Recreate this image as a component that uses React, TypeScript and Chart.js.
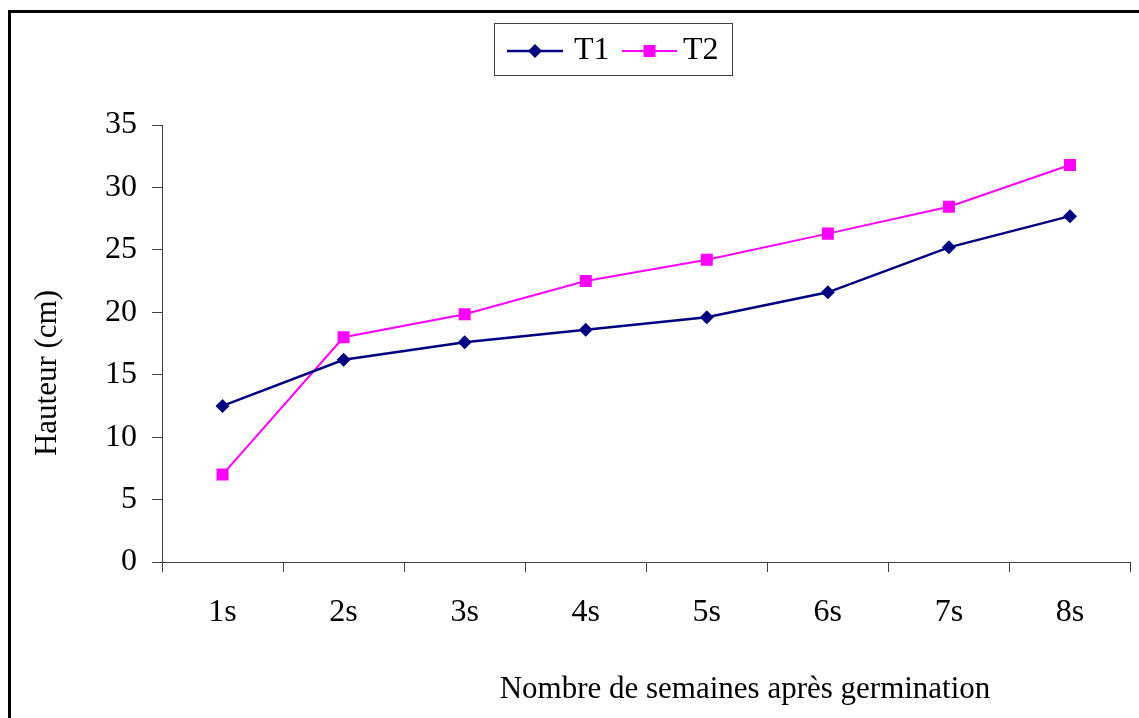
import React, { useEffect, useRef } from "react";
import { Chart, registerables } from "chart.js";

Chart.register(...registerables);

const categories = ["1s", "2s", "3s", "4s", "5s", "6s", "7s", "8s"];
const t1Values = [12.5, 16.2, 17.6, 18.6, 19.6, 21.6, 25.2, 27.7];
const t2Values = [7.0, 18.0, 19.85, 22.5, 24.2, 26.3, 28.45, 31.8];
const seriesNames = ["T1", "T2"];
const yTitle = "Hauteur (cm)";
const xTitle = "Nombre de semaines après germination";

const FONT = "'Liberation Serif', 'Times New Roman', serif";

const decorPlugin = {
  id: "decor",
  beforeDraw(chart: any) {
    const ctx = chart.ctx;
    ctx.save();
    ctx.fillStyle = "#ffffff";
    ctx.fillRect(0, 0, chart.width, chart.height);
    ctx.fillStyle = "#000000";
    ctx.fillRect(8, 10, 3, chart.height);
    ctx.fillRect(8, 10, chart.width, 3);
    ctx.restore();
  },
  afterDraw(chart: any) {
    const ctx = chart.ctx;
    ctx.save();
    ctx.fillStyle = "#000";
    ctx.font = `31px ${FONT}`;
    ctx.textAlign = "center";
    ctx.textBaseline = "middle";
    // x title
    ctx.fillText(xTitle, 745, 690);
    // y title
    ctx.save();
    ctx.translate(48, 373);
    ctx.rotate(-Math.PI / 2);
    ctx.fillText(yTitle, 0, 0);
    ctx.restore();

    // legend box
    const bx = 494, by = 23, bw = 238, bh = 52;
    ctx.strokeStyle = "#404040";
    ctx.lineWidth = 1;
    ctx.strokeRect(bx + 0.5, by + 0.5, bw, bh);
    const cy = by + bh / 2 + 2;
    const items = [
      { x0: 507, x1: 563, tx: 574 },
      { x0: 622, x1: 677, tx: 683 },
    ];
    ctx.font = `32px ${FONT}`;
    chart.data.datasets.forEach((ds: any, i: number) => {
      const it = items[i];
      ctx.strokeStyle = ds.borderColor;
      ctx.lineWidth = ds.borderWidth;
      ctx.beginPath();
      ctx.moveTo(it.x0, cy);
      ctx.lineTo(it.x1, cy);
      ctx.stroke();
      ctx.fillStyle = ds.pointBackgroundColor;
      const mx = (it.x0 + it.x1) / 2;
      if (ds.pointStyle === "rectRot") {
        const r = 7;
        ctx.beginPath();
        ctx.moveTo(mx, cy - r);
        ctx.lineTo(mx + r, cy);
        ctx.lineTo(mx, cy + r);
        ctx.lineTo(mx - r, cy);
        ctx.closePath();
        ctx.fill();
      } else {
        const s = 6;
        ctx.fillRect(mx - s, cy - s, 2 * s, 2 * s);
      }
      ctx.fillStyle = "#000";
      ctx.textAlign = "left";
      ctx.fillText(ds.label, it.tx, cy);
    });
    ctx.restore();
  },
};

export default function App() {
  const ref = useRef<HTMLCanvasElement | null>(null);
  useEffect(() => {
    if (!ref.current) return;
    const chart = new Chart(ref.current, {
      type: "line",
      data: {
        labels: categories,
        datasets: [
          {
            label: seriesNames[0],
            data: t1Values,
            borderColor: "#000080",
            backgroundColor: "#000080",
            pointBackgroundColor: "#000080",
            pointBorderColor: "#000080",
            borderWidth: 2.5,
            pointStyle: "rectRot",
            pointRadius: 7,
            pointBorderWidth: 0,
            tension: 0,
          },
          {
            label: seriesNames[1],
            data: t2Values,
            borderColor: "#ff00ff",
            backgroundColor: "#ff00ff",
            pointBackgroundColor: "#ff00ff",
            pointBorderColor: "#ff00ff",
            borderWidth: 2,
            pointStyle: "rect",
            pointRadius: 8.5,
            pointBorderWidth: 0,
            tension: 0,
          },
        ],
      },
      options: {
        animation: false,
        responsive: false,
        devicePixelRatio: 1,
        layout: { padding: { left: 102, right: 7, top: 125, bottom: 96 } },
        plugins: {
          legend: { display: false },
          tooltip: { enabled: false },
          title: { display: false },
        },
        scales: {
          x: {
            type: "category",
            offset: true,
            grid: {
              offset: true,
              drawOnChartArea: false,
              drawTicks: true,
              tickLength: 10,
              color: "#404040",
              lineWidth: 1,
            },
            border: { display: true, color: "#404040", width: 1 },
            ticks: {
              color: "#000",
              font: { family: FONT, size: 32 },
              padding: 21,
              maxRotation: 0,
              autoSkip: false,
            },
            afterFit(scale: any) {
              scale.height = 60;
            },
          },
          y: {
            min: 0,
            max: 35,
            grid: {
              drawOnChartArea: false,
              drawTicks: true,
              tickLength: 10,
              color: "#404040",
              lineWidth: 1,
            },
            border: { display: true, color: "#404040", width: 1 },
            ticks: {
              stepSize: 5,
              color: "#000",
              font: { family: FONT, size: 32 },
              padding: 15,
            },
            afterFit(scale: any) {
              scale.width = 60;
            },
          },
        },
      },
      plugins: [decorPlugin],
    });
    return () => chart.destroy();
  }, []);
  return (
    <div style={{ position: "absolute", left: 0, top: 0, width: 1139, height: 718 }}>
      <canvas ref={ref} width={1139} height={718} style={{ width: 1139, height: 718, display: "block" }} />
    </div>
  );
}
